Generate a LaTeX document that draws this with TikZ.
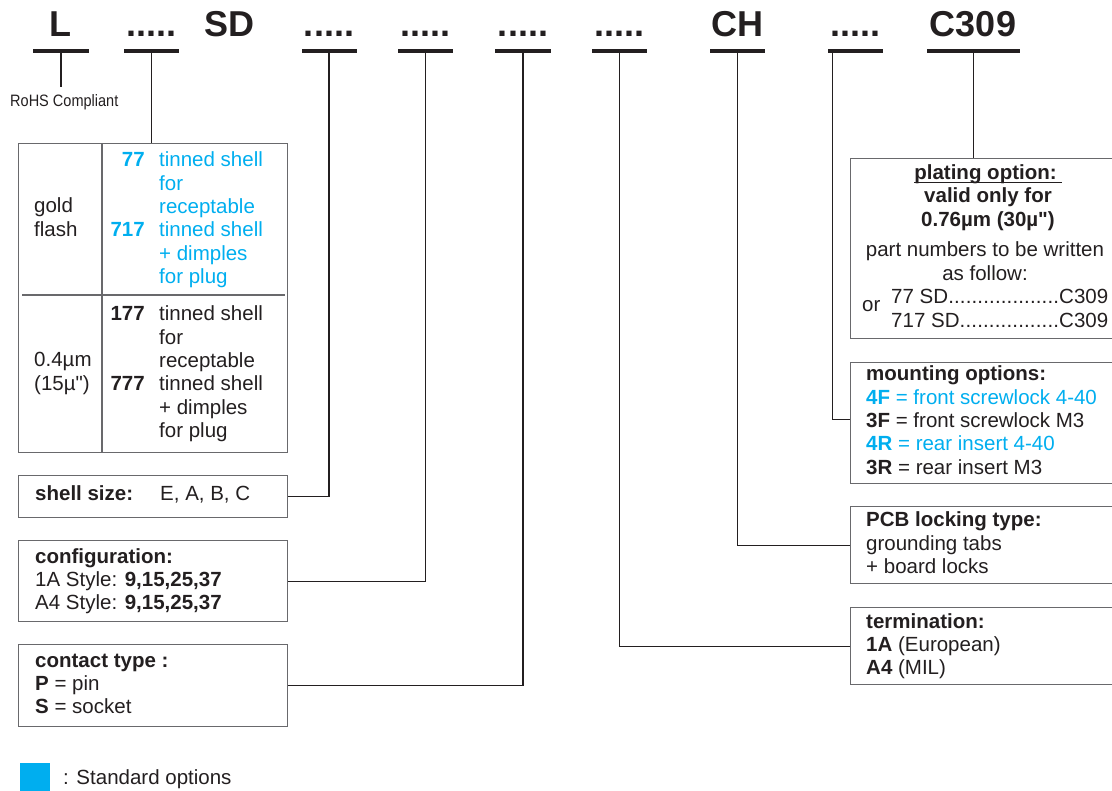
\documentclass[tikz,border=0pt]{standalone}
\usepackage{fontspec}
\setmainfont{Liberation Sans}
\newfontfamily\condfont[FakeStretch=0.88]{Liberation Sans}
\definecolor{cyanopt}{RGB}{0,174,239}
\definecolor{ink}{RGB}{35,31,32}
\definecolor{boxgray}{RGB}{105,105,108}
\newcommand{\sq}{\XeTeXglyph\XeTeXglyphindex "quotedbl"\relax}
\begin{document}
\begin{tikzpicture}[x=1pt,y=-1pt,
  every node/.style={text=ink},
  txt/.style={inner sep=0pt, font=\fontsize{20.5}{23.3}\selectfont, align=left},
  txtb/.style={inner sep=0pt, font=\fontsize{20.5}{23.3}\selectfont\bfseries, align=left},
  hd/.style={inner sep=0pt, font=\fontsize{36}{40}\selectfont\bfseries},
  uline/.style={fill=ink, inner sep=0pt, minimum height=3.5pt},
  box/.style={draw=boxgray, line width=1.3pt, inner sep=0pt, anchor=north west},
  divline/.style={draw=boxgray, line width=1.2pt},
  conn/.style={draw=ink, line width=1.1pt},
]
\clip (0,0) rectangle (1112,791);

% ---------- header ----------
\node[hd, anchor=base] (hL) at (60,37) {L};
\node[uline, minimum width=56pt] (u1) at (61,51) {};
\node[hd, anchor=base] (h2) at (151.5,37) {.....};
\node[uline, minimum width=55pt] (u2) at (151.5,51) {};
\node[hd, anchor=base] (hSD) at (229.5,37) {SD};
\node[hd, anchor=base] (h3) at (329,37) {.....};
\node[uline, minimum width=55pt] (u3) at (329,51) {};
\node[hd, anchor=base] (h4) at (425.5,37) {.....};
\node[uline, minimum width=55pt] (u4) at (425.5,51) {};
\node[hd, anchor=base] (h5) at (523,37) {.....};
\node[uline, minimum width=56pt] (u5) at (523,51) {};
\node[hd, anchor=base] (h6) at (619.5,37) {.....};
\node[uline, minimum width=55pt] (u6) at (619.5,51) {};
\node[hd, anchor=base] (hCH) at (737.5,37) {CH};
\node[uline, minimum width=55pt] (u7) at (737.5,51) {};
\node[hd, anchor=base] (h8) at (855.5,37) {.....};
\node[uline, minimum width=55pt] (u8) at (855.5,51) {};
\node[hd, anchor=base] (hC) at (973,37) {C309};
\node[uline, minimum width=93pt] (u9) at (973.5,51) {};

% ---------- RoHS ----------
\node[inner sep=0pt, anchor=base west, font=\condfont\fontsize{16.5}{18}\selectfont] (rohs) at (10,107) {RoHS Compliant};
\draw[conn, shorten >=8pt] (u1.south) -- (u1.south |- rohs.north);

% ---------- plating table (left) ----------
\node[box, minimum width=269pt, minimum height=309pt] (gold) at (18,143) {};
\draw[conn] (u2.south) -- (u2.south |- gold.north);
\draw[divline] ([xshift=84pt]gold.north west) -- ([xshift=84pt]gold.south west);
\draw[divline] ([xshift=4pt,yshift=-152pt]gold.north west) -- ([xshift=-3pt,yshift=-152pt]gold.north east);
\node[txt, anchor=base west] (goldT) at (34,236.3) {gold\\flash};
\node[txt, anchor=base west] (thinT) at (34,390.3) {0.4µm\\(15µ\sq)};
\node[txtb, anchor=base east, text=cyanopt] (n77) at (145,167) {77};
\node[txtb, anchor=base east, text=cyanopt] (n717) at (145,237) {717};
\node[txtb, anchor=base east] (n177) at (145,321) {177};
\node[txtb, anchor=base east] (n777) at (145,391) {777};
\node[txt, anchor=base west, text=cyanopt] (d77) at (159,283.5) {tinned shell\\for\\receptable\\tinned shell\\+ dimples\\for plug};
\node[txt, anchor=base west] (d177) at (159,437.5) {tinned shell\\for\\receptable\\tinned shell\\+ dimples\\for plug};

% ---------- left boxes ----------
\node[box, minimum width=269pt, minimum height=42pt] (shell) at (18,475) {};
\node[txtb, anchor=base west] (shellK) at (35,501) {shell size:};
\node[txt, anchor=base west] (shellV) at (160,501) {E, A, B, C};
\draw[conn] (u3.south) |- (shell.east);

\node[box, minimum width=269pt, minimum height=81pt] (cfg) at (18,540) {};
\node[txt, anchor=base west] (cfgT) at (35,609.6) {\textbf{configuration:}\\1A Style: \textbf{9,15,25,37}\\A4 Style: \textbf{9,15,25,37}};
\draw[conn] (u4.south) |- (cfg.east);

\node[box, minimum width=269pt, minimum height=82pt] (contact) at (18,644) {};
\node[txt, anchor=base west] (contactT) at (35,713.6) {\textbf{contact type :}\\\textbf{P} = pin\\\textbf{S} = socket};
\draw[conn] (u5.south) |- (contact.east);

% ---------- right boxes ----------
\node[box, minimum width=280pt, minimum height=180pt] (plating) at (850,158) {};
\draw[conn] (u9.south) -- (u9.south |- plating.north);
\node[txtb, anchor=base] (platH) at (988,180) {plating option:\hspace*{5pt}};
\draw[draw=ink, line width=1.1pt] ([yshift=-2.5pt]platH.base west) -- ([yshift=-2.5pt]platH.base east);
\node[txtb, anchor=base, align=center] (platV) at (988,226.3) {valid only for\\0.76µm (30µ\sq)};
\node[txt, anchor=base, align=center] (platP) at (985,280.3) {part numbers to be written\\as follow:};
\node[txt, anchor=base west] (platOr) at (862,312) {or};
\node[txt, anchor=base west] (platN) at (891,327.3) {\hbox to 217pt{77 SD\xleaders\hbox{.}\hfill C309}\\\hbox to 217pt{717 SD\xleaders\hbox{.}\hfill C309}};

\node[box, minimum width=280pt, minimum height=121pt] (mount) at (850,362) {};
\node[txt, anchor=base west] (mountT) at (866,474.2) {\textbf{mounting options:}\\\textcolor{cyanopt}{\textbf{4F} = front screwlock 4-40}\\\textbf{3F} = front screwlock M3\\\textcolor{cyanopt}{\textbf{4R} = rear insert 4-40}\\\textbf{3R} = rear insert M3};
\draw[conn] ([xshift=5pt]u8.south west) |- ([yshift=3.5pt]mount.west);

\node[box, minimum width=280pt, minimum height=77pt] (pcb) at (850,506) {};
\node[txt, anchor=base west] (pcbT) at (866,573.6) {\textbf{PCB locking type:}\\grounding tabs\\+ board locks};
\draw[conn] (u7.south) |- (pcb.west);

\node[box, minimum width=280pt, minimum height=77pt] (term) at (850,607) {};
\node[txt, anchor=base west] (termT) at (866,674.6) {\textbf{termination:}\\\textbf{1A} (European)\\\textbf{A4} (MIL)};
\draw[conn] (u6.south) |- (term.west);

% ---------- legend ----------
\node[fill=cyanopt, minimum width=30pt, minimum height=28pt, inner sep=0pt, anchor=north west] (legsq) at (20,763) {};
\node[txt, anchor=base west] (legT) at (63,784) {: Standard options};
\end{tikzpicture}
\end{document}
